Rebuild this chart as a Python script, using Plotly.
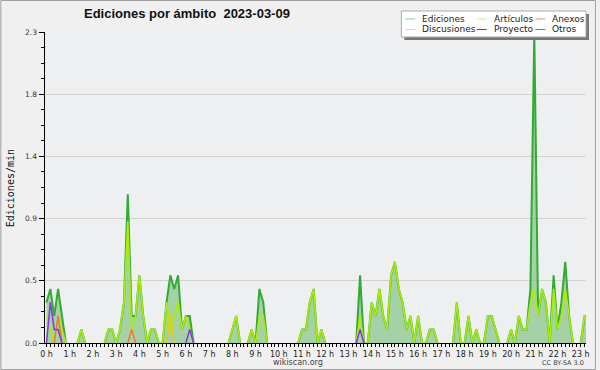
import plotly.graph_objects as go

# ---------------- data (edits/min, 10-minute bins from 00:00) ----------------
ediciones = [
    0.3, 0.4, 0.2, 0.4, 0.2, 0, 0, 0, 0, 0.1,
    0, 0, 0, 0, 0, 0, 0.1, 0.1, 0, 0.1,
    0.3, 1.1, 0.2, 0.2, 0.5, 0.2, 0, 0.1, 0.1, 0,
    0, 0.3, 0.5, 0.4, 0.5, 0.1, 0.2, 0.2, 0, 0,
    0, 0, 0, 0, 0, 0, 0, 0, 0.1, 0.2,
    0, 0, 0, 0.1, 0, 0.4, 0.3, 0, 0, 0,
    0, 0, 0, 0, 0, 0, 0.1, 0.1, 0.3, 0.4,
    0, 0.1, 0, 0, 0, 0, 0, 0, 0, 0,
    0, 0.5, 0, 0, 0.3, 0.2, 0.4, 0.2, 0.1, 0.5,
    0.6, 0.4, 0.3, 0.1, 0.2, 0, 0.2, 0, 0, 0.1,
    0.1, 0, 0, 0, 0, 0, 0.3, 0, 0, 0.2,
    0, 0.1, 0, 0, 0.2, 0.2, 0.1, 0, 0, 0,
    0.1, 0, 0.2, 0.1, 0.1, 0.4, 2.3, 0.2, 0.4, 0.3,
    0, 0.5, 0.1, 0.3, 0.6, 0.2, 0, 0, 0, 0.2,
    0.2,
]
articulos = [
    0.2, 0.1, 0, 0.2, 0.1, 0, 0, 0, 0, 0.1,
    0, 0, 0, 0, 0, 0, 0.1, 0.1, 0, 0.1,
    0.3, 0.9, 0.1, 0.2, 0.5, 0.2, 0, 0.1, 0.1, 0,
    0, 0.3, 0.1, 0.2, 0.3, 0.1, 0.2, 0.1, 0, 0,
    0, 0, 0, 0, 0, 0, 0, 0, 0.1, 0.2,
    0, 0, 0, 0.1, 0, 0.2, 0.2, 0, 0, 0,
    0, 0, 0, 0, 0, 0, 0.1, 0.1, 0.3, 0.4,
    0, 0.1, 0, 0, 0, 0, 0, 0, 0, 0,
    0, 0.2, 0, 0, 0.3, 0.2, 0.4, 0.2, 0.1, 0.5,
    0.6, 0.4, 0.3, 0.1, 0.2, 0, 0.2, 0, 0, 0.1,
    0.1, 0, 0, 0, 0, 0, 0.3, 0, 0, 0.2,
    0, 0.1, 0, 0, 0.2, 0.2, 0.1, 0, 0, 0,
    0.1, 0, 0.2, 0.1, 0.1, 0.3, 0.4, 0.2, 0.4, 0.3,
    0, 0.4, 0.1, 0.2, 0.4, 0.2, 0, 0, 0, 0.2,
    0.2,
]
anexos = [
    0, 0, 0, 0.2, 0, 0, 0, 0, 0, 0,
    0, 0, 0, 0, 0, 0, 0, 0, 0, 0,
    0, 0, 0.1, 0, 0, 0, 0, 0, 0, 0,
] + [0] * 111
discusiones = [
    0, 0, 0, 0, 0, 0, 0, 0, 0, 0,
    0, 0, 0, 0, 0, 0, 0, 0, 0, 0,
    0, 0, 0, 0, 0, 0, 0, 0, 0, 0,
    0, 0, 0.2, 0, 0, 0, 0, 0, 0, 0,
] + [0] * 101
proyecto = [0] * 141
otros = [
    0, 0.3, 0.1, 0.1, 0, 0, 0, 0, 0, 0,
    0, 0, 0, 0, 0, 0, 0, 0, 0, 0,
    0, 0, 0, 0, 0, 0, 0, 0, 0, 0,
    0, 0, 0, 0, 0, 0, 0, 0.1, 0, 0,
    0, 0, 0, 0, 0, 0, 0, 0, 0, 0,
    0, 0, 0, 0, 0, 0, 0, 0, 0, 0,
    0, 0, 0, 0, 0, 0, 0, 0, 0, 0,
    0, 0, 0, 0, 0, 0, 0, 0, 0, 0,
    0, 0.1, 0,
] + [0] * 58

hour_ticks = [0, 6, 12, 18, 24, 30, 36, 42, 48, 54, 60, 66, 72, 78, 84, 90,
              96, 102, 108, 114, 120, 126, 132, 138]
hour_labels = ["0 h", "1 h", "2 h", "3 h", "4 h", "5 h", "6 h", "7 h", "8 h",
               "9 h", "10 h", "11 h", "12 h", "13 h", "14 h", "15 h", "16 h",
               "17 h", "18 h", "19 h", "20 h", "21 h", "22 h", "23 h"]
y_ticks = [0, 0.46, 0.92, 1.38, 1.84, 2.3]
y_labels = ["0.0", "0.5", "0.9", "1.4", "1.8", "2.3"]

series_names = ["Ediciones", "Artículos", "Anexos", "Discusiones", "Proyecto", "Otros"]
series_colors = ["#33aa33", "#aaee00", "#f07830", "#eec800", "#444444", "#8833ee"]
legend_colors = ["#88cc88", "#ccee77", "#f09060", "#f0d860", "#555555", "#9955ee"]

title_text = "Ediciones por ámbito  2023-03-09"
y_title = "Ediciones/min"

x = list(range(len(ediciones)))


def trim(vals):
    out = []
    n = len(vals)
    for i, v in enumerate(vals):
        p = vals[i - 1] if i > 0 else 0
        q = vals[i + 1] if i < n - 1 else 0
        out.append(v if (v or p or q) else None)
    return out


# ---------------- figure ----------------
L, R, T, B = 45, 10, 32, 27
W, H = 600, 370
PW, PH = W - L - R, H - T - B


def xp(px):
    return (px - L) / PW


def yp(py):
    return (H - B - py) / PH


fig = go.Figure()
fig.add_trace(go.Scatter(x=x, y=ediciones, mode="lines", fill="tozeroy",
                         fillcolor="rgba(120,190,120,0.62)", line=dict(width=0),
                         hoverinfo="skip", showlegend=False))
fig.add_trace(go.Scatter(x=x, y=trim(proyecto), mode="lines",
                         line=dict(color=series_colors[4], width=1.5), showlegend=False))
fig.add_trace(go.Scatter(x=x, y=trim(ediciones), mode="lines",
                         line=dict(color=series_colors[0], width=2), showlegend=False))
fig.add_trace(go.Scatter(x=x, y=trim(discusiones), mode="lines",
                         line=dict(color=series_colors[3], width=1.5), showlegend=False))
fig.add_trace(go.Scatter(x=x, y=trim(articulos), mode="lines",
                         line=dict(color=series_colors[1], width=1.6), showlegend=False))
fig.add_trace(go.Scatter(x=x, y=trim(anexos), mode="lines",
                         line=dict(color=series_colors[2], width=1.5), showlegend=False))
fig.add_trace(go.Scatter(x=x, y=trim(otros), mode="lines",
                         line=dict(color=series_colors[5], width=1.5), showlegend=False))

shapes = []
annotations = []

# outer frame
shapes.append(dict(type="rect", xref="paper", yref="paper",
                   x0=xp(0.5), x1=xp(599.5), y0=yp(369.5), y1=yp(0.5),
                   line=dict(color="#a0a0a0", width=1), fillcolor="rgba(0,0,0,0)",
                   layer="above"))

# legend box with shadow
shapes.append(dict(type="rect", xref="paper", yref="paper",
                   x0=xp(407), x1=xp(593), y0=yp(40), y1=yp(14),
                   line=dict(width=0), fillcolor="#777777", layer="above"))
shapes.append(dict(type="rect", xref="paper", yref="paper",
                   x0=xp(404), x1=xp(590), y0=yp(37), y1=yp(11),
                   line=dict(color="#aaaaaa", width=1), fillcolor="#ffffff", layer="above"))
cols = [408, 480, 539]
rows = [19, 29.5]
for i, name in enumerate(series_names):
    r, c = divmod(i, 3)
    shapes.append(dict(type="line", xref="paper", yref="paper",
                       x0=xp(cols[c]), x1=xp(cols[c] + 10), y0=yp(rows[r]), y1=yp(rows[r]),
                       line=dict(color=legend_colors[i], width=1), layer="above"))
    annotations.append(dict(text=name, xref="paper", yref="paper",
                            x=xp(cols[c] + 15), y=yp(rows[r]), xanchor="left",
                            yanchor="middle", showarrow=False,
                            font=dict(family="DejaVu Sans", size=9, color="#222222")))

annotations.append(dict(text=title_text, xref="paper", yref="paper", x=xp(188), y=yp(14),
                        xanchor="center", yanchor="middle", showarrow=False,
                        font=dict(family="Liberation Sans", size=13, color="#111111",
                                  weight="bold")))
annotations.append(dict(text=y_title, xref="paper", yref="paper", x=xp(10), y=yp(188),
                        xanchor="center", yanchor="middle", textangle=-90, showarrow=False,
                        font=dict(family="DejaVu Sans Mono", size=10, color="#111111")))
annotations.append(dict(text="wikiscan.org", xref="paper", yref="paper", x=xp(300), y=yp(362),
                        xanchor="center", yanchor="middle", showarrow=False,
                        font=dict(family="DejaVu Sans", size=8, color="#444444")))
annotations.append(dict(text="CC BY-SA 3.0", xref="paper", yref="paper", x=xp(590), y=yp(363.5),
                        xanchor="right", yanchor="middle", showarrow=False,
                        font=dict(family="DejaVu Sans", size=6.5, color="#444444")))

fig.update_layout(
    width=W, height=H,
    margin=dict(l=L, r=R, t=T, b=B, pad=0),
    paper_bgcolor="#f0f0f0",
    plot_bgcolor="#eeeff1",
    showlegend=False,
    hovermode=False,
    shapes=shapes,
    annotations=annotations,
    xaxis=dict(range=[-0.385, 139.36], tickmode="array", tickvals=hour_ticks,
               ticktext=hour_labels, ticks="outside", ticklen=3, tickcolor="#000000",
               tickwidth=1, showline=True, linecolor="#000000", linewidth=1,
               showgrid=False, zeroline=False,
               tickfont=dict(family="DejaVu Sans", size=8, color="#222222"),
               minor=dict(tick0=0, dtick=1, ticks="outside", ticklen=3,
                          tickcolor="#000000", tickwidth=1, showgrid=False)),
    yaxis=dict(range=[0, 2.3], tickmode="array", tickvals=y_ticks, ticktext=y_labels,
               ticks="outside", ticklen=5, tickcolor="#000000", tickwidth=1,
               showline=True, linecolor="#000000", linewidth=1.5,
               showgrid=True, gridcolor="#d2d2d2", gridwidth=1, zeroline=False,
               tickfont=dict(family="DejaVu Sans", size=7.5, color="#333333"),
               minor=dict(tick0=0, dtick=0.115, ticks="outside", ticklen=3,
                          tickcolor="#000000", tickwidth=1, showgrid=False)),
)

fig.write_html("out.html", config={"displayModeBar": False, "staticPlot": True},
               post_script="document.body.style.margin='0';document.body.style.padding='0';")
